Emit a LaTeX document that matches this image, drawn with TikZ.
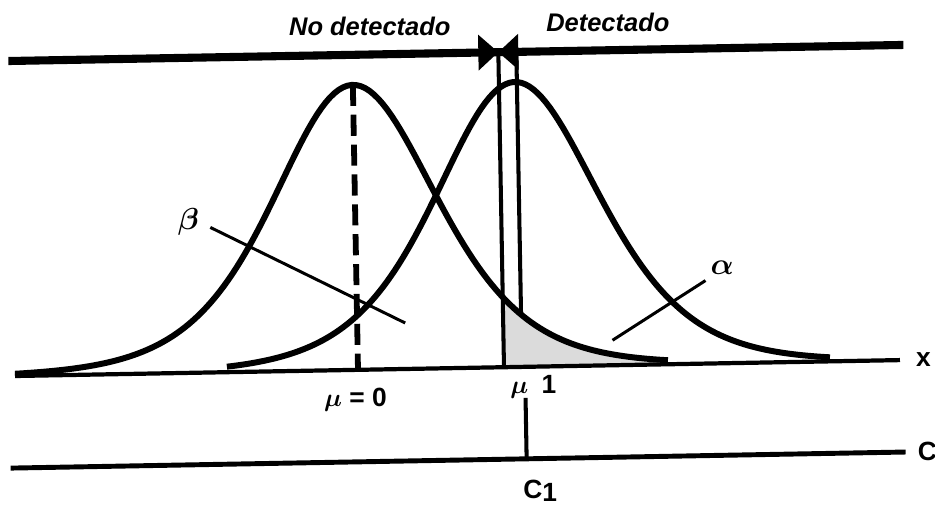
\documentclass[tikz,border=0pt]{standalone}
\usepackage{fontspec}
\usepackage{amsmath,bm}
\setmainfont{Liberation Sans}
\usetikzlibrary{calc}
\newcommand{\curvezero}[1]{285/(cosh((#1-343)/110))^2}
\newcommand{\curveone}[1]{285/(cosh((#1-505)/110))^2}
\tikzset{
  axisline/.style={line width=2.4pt},
  bandline/.style={line width=4.6pt},
  bell/.style={line width=3.4pt, line join=round},
  cutline/.style={line width=2.3pt},
  leader/.style={line width=1.7pt},
  lbl/.style={font=\fontsize{15}{17}\selectfont\bfseries, inner sep=1pt},
  greek/.style={font=\fontsize{17}{19}\selectfont, inner sep=1pt},
  zone/.style={font=\fontsize{14.5}{16}\selectfont\bfseries\itshape, inner sep=1pt},
  alphafill/.style={fill=black!14}
}

\begin{document}
\begin{tikzpicture}
\useasboundingbox (0,0) rectangle (18.7,10.14);
\begin{scope}[shift={(0.3,2.62)}, rotate=1.03, x=0.02cm, y=0.02cm]
\coordinate (xl) at (0,0);
\coordinate (xr) at (885,0);
\coordinate (cl) at (-6,-92);
\coordinate (cr) at (889,-92);
\coordinate (tl) at (-1,315);
\coordinate (tr) at (894,315);
\coordinate (ctop) at (489,315);
\coordinate (cbot) at (489,0);
\coordinate (mtop) at (507,315);
\coordinate (mbot) at (507,{\curvezero{507}});
\coordinate (peak) at (343,{\curvezero{343}});
\coordinate (pfoot) at (343,0);
\coordinate (tickt) at (510,-31);
\coordinate (tickb) at (510,-92);
\coordinate (bs) at (198,145);
\coordinate (be) at (391,46);
\coordinate (as) at (598,25);
\coordinate (ae) at (692,83);

\fill[alphafill] plot[domain=489:653, samples=60] (\x,{\curvezero{\x}}) -- (653,0) -- (489,0) -- cycle;
\draw[bell] plot[domain=0:653, samples=150] (\x,{\curvezero{\x}});
\draw[bell] plot[domain=212:815, samples=150] (\x,{\curveone{\x}});

\draw[axisline] (xl) -- (xr);
\draw[axisline, line width=2.8pt] (cl) -- (cr);
\draw[bandline] (tl) -- (tr);
\draw[cutline] (ctop) -- (cbot);
\draw[cutline] (mtop) -- (mbot);
\draw[cutline] (tickt) -- (tickb);
\draw[line width=3.3pt, dash pattern=on 12pt off 5pt] (peak) -- (pfoot);
\fill (ctop) -- ++(-20,18) -- ++(0,-36) -- cycle;
\fill (ctop) -- ++(20,18) -- ++(0,-36) -- cycle;
\draw[leader] (bs) -- (be);
\draw[leader] (as) -- (ae);

\node[zone] (nodet) at (361,343) {No detectado};
\node[zone] (det) at (599,343) {Detectado};
\node[lbl, anchor=west] (xlab) at (899,0) {x};
\node[lbl, anchor=west] (clab) at (899,-92) {C};
\node[lbl] (mu0) at (340,-30) {$\bm{\mu}$ = 0};
\node[lbl] (mu1) at (518,-20) {$\bm{\mu}$\enspace 1};
\node[lbl] (c1) at (523,-124) {C\raisebox{-2pt}{1}};
\node[greek] (beta) at (176,151) {$\bm{\beta}$};
\node[greek] (alpha) at (709,96) {$\bm{\alpha}$};
\end{scope}
\end{tikzpicture}
\end{document}
